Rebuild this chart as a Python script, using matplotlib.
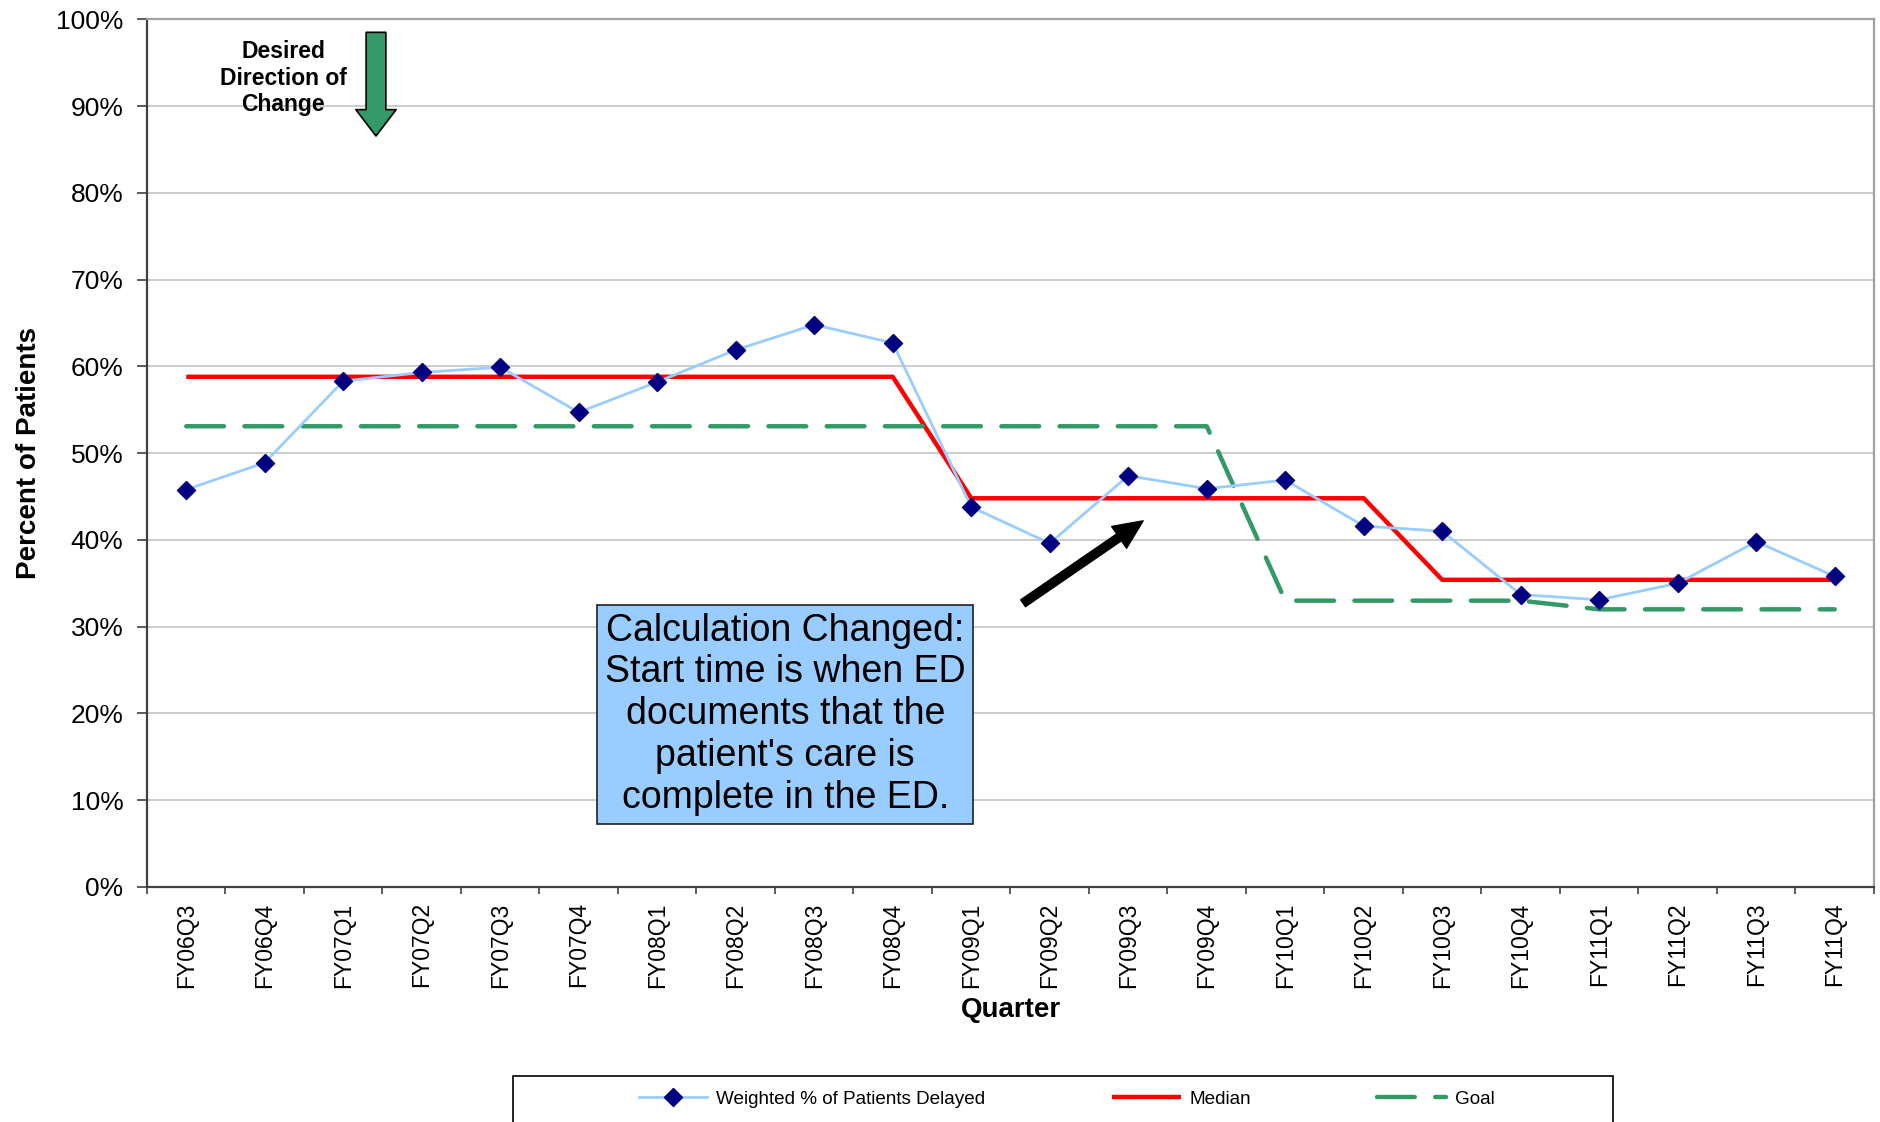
import matplotlib
matplotlib.use("Agg")
import matplotlib.pyplot as plt
import numpy as np
from matplotlib.patches import Rectangle

plt.rcParams['font.family'] = ['Liberation Sans', 'DejaVu Sans']

quarters = ["FY06Q3", "FY06Q4", "FY07Q1", "FY07Q2", "FY07Q3", "FY07Q4",
            "FY08Q1", "FY08Q2", "FY08Q3", "FY08Q4", "FY09Q1", "FY09Q2",
            "FY09Q3", "FY09Q4", "FY10Q1", "FY10Q2", "FY10Q3", "FY10Q4",
            "FY11Q1", "FY11Q2", "FY11Q3", "FY11Q4"]
weighted = [45.8, 48.9, 58.3, 59.3, 59.9, 54.7, 58.2, 61.9, 64.8, 62.7, 43.8,
            39.6, 47.4, 45.9, 46.9, 41.6, 41.0, 33.7, 33.1, 35.0, 39.8, 35.8]
median = [58.8] * 10 + [44.8] * 6 + [35.4] * 6
goal = [53.1] * 14 + [33.0] * 4 + [32.0] * 4
yticks = [0, 10, 20, 30, 40, 50, 60, 70, 80, 90, 100]

W, H = 1881, 1122
fig = plt.figure(figsize=(W / 100, H / 100), dpi=100)
L, R, T, B = 147, 1874, 19.3, 887
ax = fig.add_axes([L / W, 1 - B / H, (R - L) / W, (B - T) / H])

x = np.arange(len(quarters))
diamond = [(0, 1), (1, 0), (0, -1), (-1, 0), (0, 1)]
l1, = ax.plot(x, weighted, color='#99CCFF', lw=2.0, marker=diamond, ms=13,
              mfc='#000080', mec='#000080', zorder=5,
              label='Weighted % of Patients Delayed')
l2, = ax.plot(x, median, color='#FF0000', lw=3.2, zorder=3,
              solid_capstyle='butt', label='Median')
l3, = ax.plot(x, goal, color='#339966', lw=3.2, ls=(0, (8.5, 4.6)),
              dash_capstyle='round', zorder=4, label='Goal')

ax.set_xlim(-0.5, len(quarters) - 0.5)
ax.set_ylim(0, 100)
ax.set_yticks(yticks)
ax.set_yticklabels([f"{v}%" for v in yticks], fontsize=19)
ax.tick_params(axis='y', direction='out', length=7, width=1.2,
               color='#404040', pad=10)

ax.set_xticks(np.arange(-0.5, len(quarters), 1))
ax.set_xticklabels([''] * (len(quarters) + 1))
ax.tick_params(axis='x', which='major', direction='out', length=5,
               width=1.2, color='#404040')
ax.set_xticks(x, minor=True)
ax.set_xticklabels(quarters, minor=True, rotation=90, fontsize=16.5)
ax.tick_params(axis='x', which='minor', length=0, pad=11)

ax.yaxis.grid(True, color='#C8C8C8', lw=1.3)
ax.set_axisbelow(True)
for s in ['left', 'bottom']:
    ax.spines[s].set_color('#404040')
    ax.spines[s].set_linewidth(1.6)
for s in ['top', 'right']:
    ax.spines[s].set_color('#A0A0A0')
    ax.spines[s].set_linewidth(1.6)

ax.set_ylabel('Percent of Patients', fontsize=20, fontweight='bold')
ax.yaxis.set_label_coords(-0.061, 0.5)
ax.set_xlabel('Quarter', fontsize=20, fontweight='bold')
ax.xaxis.set_label_coords(0.5, -0.127)

# annotation box
ax.text(7.63, 19.9,
        "Calculation Changed:\nStart time is when ED\ndocuments that the\n"
        "patient's care is\ncomplete in the ED.",
        ha='center', va='center', fontsize=27, linespacing=1.21, zorder=6,
        bbox=dict(boxstyle='square,pad=0.2', fc='#99CCFF', ec='#202020',
                  lw=1.2))

# black arrow
ax.annotate('', xy=(12.19, 42.2), xytext=(10.66, 32.7),
            arrowprops=dict(arrowstyle='simple,head_width=1.9,head_length=2.1,tail_width=0.6',
                            mutation_scale=10, fc='black', ec='black',
                            shrinkA=0, shrinkB=0), zorder=6)

# desired direction arrow
ax.annotate('', xy=(2.417, 86.55), xytext=(2.417, 98.5),
            arrowprops=dict(arrowstyle='simple,head_width=2.9,head_length=1.9,tail_width=1.42',
                            mutation_scale=10, fc='#339966', ec='black',
                            lw=1.2, shrinkA=0, shrinkB=0), zorder=6)
ax.text(1.232, 93.2, "Desired\nDirection of\nChange", ha='center',
        va='center', fontsize=16.5, fontweight='bold', linespacing=1.2)

# legend
fig.legend(handles=[l1, l2, l3], loc='center',
           bbox_to_anchor=(1066.5 / W, 1 - 1099 / H), ncol=3,
           frameon=False, fontsize=13.6, handlelength=3.65,
           handletextpad=0.45, columnspacing=6.7, numpoints=1)
fig.patches.append(Rectangle((513 / W, -0.05), 1100 / W,
                             (1 - 1075.7 / H) + 0.05,
                             transform=fig.transFigure, fill=False,
                             ec='black', lw=1.2))

fig.savefig('out.png', dpi=100)
